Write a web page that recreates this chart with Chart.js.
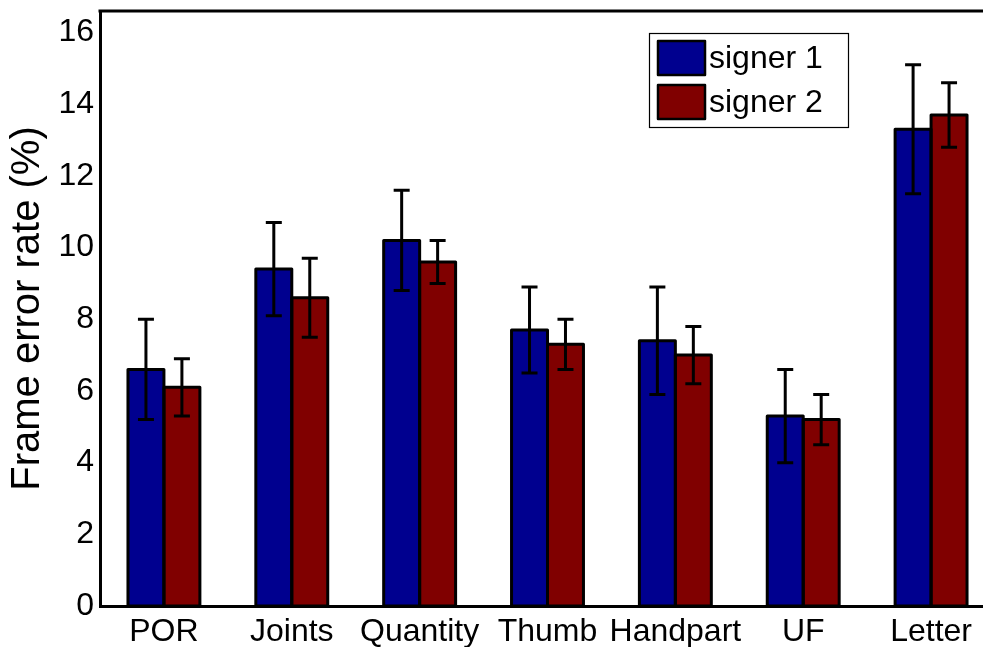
<!DOCTYPE html>
<html lang="en">
<head>
    <meta charset="UTF-8">
    <title>Frame error rate</title>
    <script src="https://cdn.jsdelivr.net/npm/chart.js"></script>
    <style>
        html, body { margin: 0; padding: 0; background: #ffffff; overflow: hidden; }
        #wrap { width: 1000px; height: 647px; }
    </style>
</head>
<body>
    <div id="wrap"><canvas id="chart" width="1000" height="647"></canvas></div>

    <script>
        // --- Data ---
        const categories = ['POR', 'Joints', 'Quantity', 'Thumb', 'Handpart', 'UF', 'Letter'];
        const signer1 = [6.6, 9.4, 10.2, 7.7, 7.4, 5.3, 13.3];
        const signer1Err = [1.4, 1.3, 1.4, 1.2, 1.5, 1.3, 1.8];
        const signer2 = [6.1, 8.6, 9.6, 7.3, 7.0, 5.2, 13.7];
        const signer2Err = [0.8, 1.1, 0.6, 0.7, 0.8, 0.7, 0.9];
        const yTicks = [0, 2, 4, 6, 8, 10, 12, 14, 16];

        const FONT = '"Liberation Sans", Arial, Helvetica, sans-serif';
        const BLUE = '#00008f';
        const RED = '#800000';

        // bar outlines, error bars, top border and legend box
        const extras = {
            id: 'extras',
            afterDatasetsDraw(chart) {
                const ctx = chart.ctx;
                const y = chart.scales.y;
                const errs = [signer1Err, signer2Err];
                ctx.save();
                ctx.strokeStyle = '#000';
                ctx.lineWidth = 3;
                ctx.lineJoin = 'round';
                // outlines centred on the bar edges
                chart.data.datasets.forEach((ds, di) => {
                    chart.getDatasetMeta(di).data.forEach(bar => {
                        const p = bar.getProps(['x', 'y', 'base', 'width'], true);
                        ctx.strokeRect(p.x - p.width / 2, p.y, p.width, p.base - p.y);
                    });
                });
                chart.data.datasets.forEach((ds, di) => {
                    const meta = chart.getDatasetMeta(di);
                    meta.data.forEach((bar, i) => {
                        const v = ds.data[i];
                        const e = errs[di][i];
                        const yTop = y.getPixelForValue(v + e);
                        const yBot = y.getPixelForValue(v - e);
                        const cap = 8;
                        ctx.beginPath();
                        ctx.moveTo(bar.x, yTop); ctx.lineTo(bar.x, yBot);
                        ctx.moveTo(bar.x - cap, yTop); ctx.lineTo(bar.x + cap, yTop);
                        ctx.moveTo(bar.x - cap, yBot); ctx.lineTo(bar.x + cap, yBot);
                        ctx.stroke();
                    });
                });
                ctx.restore();
            },
            afterDraw(chart) {
                const ctx = chart.ctx;
                const a = chart.chartArea;
                ctx.save();
                // top edge of the axes box
                ctx.strokeStyle = '#000';
                ctx.lineWidth = 3;
                ctx.beginPath();
                ctx.moveTo(a.left - 1.5, a.top);
                ctx.lineTo(a.right, a.top);
                ctx.stroke();

                // legend
                const lx = a.right - 346, ly = a.top + 22, lw = 199, lh = 94;
                ctx.fillStyle = '#fff';
                ctx.fillRect(lx, ly, lw, lh);
                ctx.lineWidth = 1.2;
                ctx.strokeRect(lx + 0.5, ly + 0.5, lw, lh);
                ctx.font = '32px ' + FONT;
                ctx.textBaseline = 'middle';
                ctx.lineJoin = 'round';
                chart.data.datasets.forEach((ds, i) => {
                    const sy = ly + 8 + i * 44;
                    ctx.fillStyle = ds.backgroundColor;
                    ctx.fillRect(lx + 9, sy, 47, 34);
                    ctx.lineWidth = 2.5;
                    ctx.strokeRect(lx + 9, sy, 47, 34);
                    ctx.fillStyle = '#000';
                    ctx.fillText(ds.label, lx + 60, sy + 18);
                });
                ctx.restore();
            }
        };

        new Chart(document.getElementById('chart'), {
            type: 'bar',
            data: {
                labels: categories,
                datasets: [
                    { label: 'signer 1', data: signer1, backgroundColor: BLUE },
                    { label: 'signer 2', data: signer2, backgroundColor: RED }
                ]
            },
            options: {
                responsive: false,
                animation: false,
                devicePixelRatio: 1,
                layout: { padding: { top: 11, right: 5, left: 0, bottom: 0 } },
                datasets: {
                    bar: {
                        categoryPercentage: 0.5625,
                        barPercentage: 1,
                        borderWidth: 0
                    }
                },
                plugins: {
                    legend: { display: false },
                    tooltip: { enabled: false }
                },
                scales: {
                    x: {
                        grid: { display: false, drawTicks: false },
                        border: { display: true, color: '#000', width: 3 },
                        ticks: { color: '#000', font: { family: FONT, size: 32 }, padding: 7, maxRotation: 0, autoSkip: false },
                        afterFit(scale) {
                            scale.height = 41;
                            scale.paddingLeft = 0;
                            scale.paddingRight = 0;
                        }
                    },
                    y: {
                        min: 0,
                        max: 16.6,
                        afterBuildTicks(scale) { scale.ticks = yTicks.map(v => ({ value: v })); },
                        grid: { display: false, drawTicks: false },
                        border: { display: true, color: '#000', width: 3 },
                        ticks: { color: '#000', font: { family: FONT, size: 32 }, padding: 6 },
                        title: {
                            display: true,
                            text: 'Frame error rate (%)',
                            color: '#000',
                            font: { family: FONT, size: 40 },
                            padding: { top: 4, bottom: 0 }
                        },
                        afterFit(scale) {
                            scale.width = 100;
                            scale.paddingTop = 0;
                            scale.paddingBottom = 0;
                        }
                    }
                }
            },
            plugins: [extras]
        });
    </script>
</body>
</html>
